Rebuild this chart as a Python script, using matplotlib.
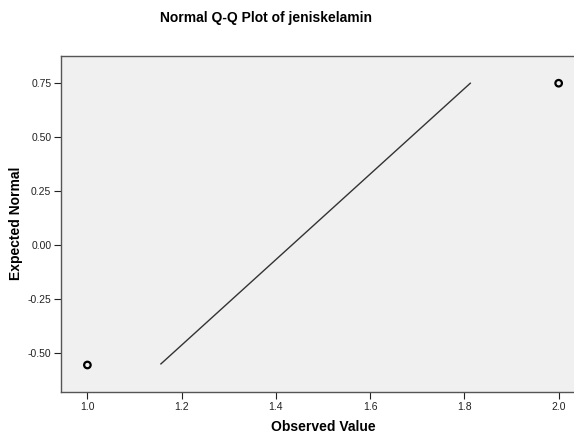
import matplotlib
matplotlib.use('Agg')
import matplotlib.pyplot as plt

plt.rcParams['font.family'] = ['Liberation Sans', 'DejaVu Sans']

# data
observed = [1.0, 2.0]
expected = [-0.554, 0.75]
line_x = [1.156, 1.8125]
line_y = [-0.549, 0.75]
xticks = [1.0, 1.2, 1.4, 1.6, 1.8, 2.0]
yticks = [-0.50, -0.25, 0.00, 0.25, 0.50, 0.75]

fig = plt.figure(figsize=(5.74, 4.41), dpi=100)
ax = fig.add_axes([61/574, 1 - 392/441, 1 - 61/574 + 0.002, (392 - 56)/441])
ax.set_facecolor('#f0f0f0')

ax.plot(line_x, line_y, color='#333333', lw=1.0)
ax.scatter(observed, expected, s=22, facecolors='none', edgecolors='black', linewidths=1.6, zorder=3)

ax.set_xlim(0.944, 2.035)
ax.set_ylim(-0.679, 0.876)
ax.set_xticks(xticks)
ax.set_xticklabels([f'{v:.1f}' for v in xticks])
ax.set_yticks(yticks)
ax.set_yticklabels([f'{v:.2f}' for v in yticks])
ax.tick_params(labelsize=7.5, colors='#222222', length=5, width=0.8, pad=2)

for s in ['left', 'bottom', 'top']:
    ax.spines[s].set_color('#555555')
    ax.spines[s].set_linewidth(1.0)
ax.spines['right'].set_visible(False)

fig.text(266/574, 1 - 18/441, 'Normal Q-Q Plot of jeniskelamin', ha='center', va='center',
         fontsize=10, fontweight='bold')
fig.text(323/574, 1 - 427/441, 'Observed Value', ha='center', va='center',
         fontsize=10, fontweight='bold')
fig.text(16/574, 1 - 223/441, 'Expected Normal', ha='center', va='center',
         rotation=90, fontsize=10, fontweight='bold')

fig.savefig('out.png', dpi=100)
